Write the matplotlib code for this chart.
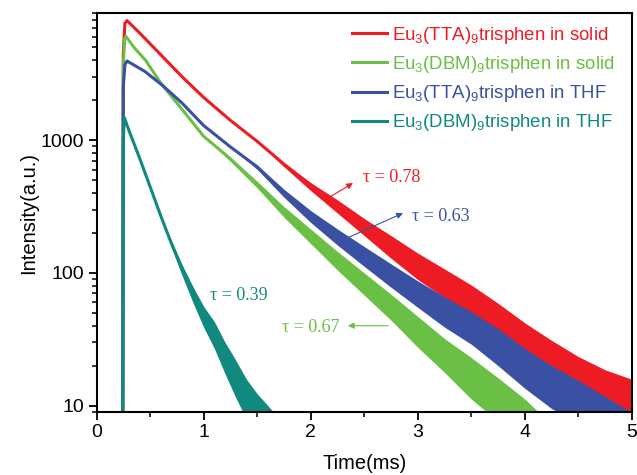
import matplotlib
matplotlib.use("Agg")
import matplotlib.pyplot as plt
import numpy as np

plt.rcParams['font.family'] = ['Liberation Sans', 'DejaVu Sans']
plt.rcParams['mathtext.fontset'] = 'custom'
plt.rcParams['mathtext.rm'] = 'Liberation Sans'
plt.rcParams['mathtext.it'] = 'Liberation Sans:italic'

# ---------------- data ----------------
labels = [r"Eu$_\mathregular{3}$(TTA)$_\mathregular{9}$trisphen in solid",
          r"Eu$_\mathregular{3}$(DBM)$_\mathregular{9}$trisphen in solid",
          r"Eu$_\mathregular{3}$(TTA)$_\mathregular{9}$trisphen in THF",
          r"Eu$_\mathregular{3}$(DBM)$_\mathregular{9}$trisphen in THF"]
colors = ["#ED1C24", "#6ABF45", "#3A50A2", "#10897F"]

red_t = [0.245, 0.25, 0.265, 0.285, 0.4, 0.6, 0.8, 1.0, 1.25, 1.5, 1.75, 2.0, 2.25,
         2.5, 2.75, 3.0, 3.25, 3.5, 3.75, 4.0, 4.25, 4.5, 4.75, 5.0]
red_mid = [5, 4500, 7600, 7950, 6450, 4400, 3000, 2100, 1410, 980, 660, 457, 324,
           229, 162, 117, 87, 65, 46, 32, 23.4, 17.4, 13.8, 11.7]
red_hi = [5, 4500, 7600, 7950, 6450, 4400, 3000, 2100, 1410, 980, 676, 479, 355,
          257, 191, 141, 107, 81, 59, 42, 31, 23.4, 18.6, 15.8]
red_lo = [5, 4500, 7600, 7950, 6450, 4400, 3000, 2100, 1410, 980, 631, 417, 282,
          191, 129, 89, 65, 47, 32, 21, 15.5, 11.2, 8.7, 7.4]

green_t = [0.245, 0.25, 0.262, 0.275, 0.35, 0.46, 0.6, 0.8, 1.0, 1.25, 1.5, 1.75, 2.0,
           2.25, 2.5, 2.75, 3.0, 3.25, 3.5, 3.75, 4.0, 4.2]
green_mid = [5, 3550, 5750, 6050, 5000, 3980, 2690, 1700, 1070, 724, 468, 295, 190,
             126, 85, 57.5, 38, 25.7, 17.8, 12.6, 9.3, 7.6]
green_hi = [5, 3550, 5750, 6050, 5000, 3980, 2690, 1700, 1070, 741, 490, 316, 214,
            145, 100, 69, 47, 32, 23, 16.2, 11.2, 7.9]
green_lo = [5, 3550, 5750, 6050, 5000, 3980, 2690, 1700, 1070, 692, 437, 263, 166,
            105, 68, 44, 27.5, 17.8, 11.2, 7.6, 5.9, 4.8]

blue_t = [0.245, 0.25, 0.265, 0.285, 0.45, 0.62, 0.8, 1.0, 1.25, 1.5, 1.75, 2.0, 2.25,
          2.5, 2.75, 3.0, 3.25, 3.5, 3.75, 4.0, 4.25, 4.5, 4.75, 5.0]
blue_mid = [5, 2500, 3700, 3950, 3300, 2570, 1900, 1290, 890, 630, 407, 269, 190,
            138, 100, 72, 54, 41, 29.5, 20.4, 15.1, 11.7, 9.3, 7.9]
blue_hi = [5, 2500, 3700, 3950, 3300, 2570, 1900, 1290, 890, 646, 427, 295, 214,
           158, 117, 87, 66, 51, 38, 27, 20, 15.5, 11.7, 8.9]
blue_lo = [5, 2500, 3700, 3950, 3300, 2570, 1900, 1290, 890, 603, 372, 240, 162,
           112, 78, 55, 39, 29, 20, 13.5, 9.5, 7.4, 5.9, 5]

teal_t = [0.245, 0.25, 0.26, 0.3, 0.4, 0.5, 0.6, 0.7, 0.8, 0.9, 1.0, 1.1, 1.2, 1.3,
          1.4, 1.5, 1.6, 1.7]
teal_mid = [5, 1000, 1480, 1200, 741, 447, 269, 166, 107, 71, 49, 35.5, 24.5, 17.4,
            12.6, 9.8, 8.3, 7.2]
teal_hi = [5, 1000, 1480, 1200, 741, 447, 269, 174, 115, 79, 56, 43, 30, 22,
           15.8, 12.3, 10, 8.1]
teal_lo = [5, 1000, 1480, 1200, 741, 447, 269, 155, 95, 60, 39, 27, 17.4, 11.5,
           7.9, 6.2, 5.2, 4.6]

taus = ["τ = 0.78", "τ = 0.63", "τ = 0.67", "τ = 0.39"]

x_ticks = [0, 1, 2, 3, 4, 5]
y_ticks = [10, 100, 1000]

# ---------------- figure ----------------
fig = plt.figure(figsize=(6.37, 4.75), dpi=100)
ax = fig.add_axes([0.1515, 0.1333, 0.8405, 0.8383])

series = [(red_t, red_mid, red_lo, red_hi),
          (green_t, green_mid, green_lo, green_hi),
          (blue_t, blue_mid, blue_lo, blue_hi),
          (teal_t, teal_mid, teal_lo, teal_hi)]
handles = []
for (t, m, lo, hi), c, lab in zip(series, colors, labels):
    ax.fill_between(t, lo, hi, color=c, linewidth=0)
    h, = ax.plot(t, m, color=c, lw=2.2, label=lab, solid_joinstyle='round')
    handles.append(h)

ax.set_yscale('log')
ax.set_xlim(0, 5)
ax.set_ylim(9.0, 9000)
ax.set_xticks(x_ticks)
ax.set_xticklabels([str(v) for v in x_ticks])
ax.set_yticks(y_ticks)
ax.set_yticklabels([str(v) for v in y_ticks])
ax.xaxis.set_minor_locator(matplotlib.ticker.MultipleLocator(0.5))
ax.yaxis.set_minor_locator(matplotlib.ticker.LogLocator(base=10, subs=np.arange(2, 10)))
ax.yaxis.set_minor_formatter(matplotlib.ticker.NullFormatter())
ax.tick_params(which='major', direction='out', length=6, width=1.3, labelsize=14,
               top=False, right=False, pad=3)
ax.tick_params(which='minor', direction='out', length=3.5, width=1.1,
               top=False, right=False)
for s in ax.spines.values():
    s.set_linewidth(1.5)

ax.set_xlabel("Time(ms)", fontsize=14.5, labelpad=9)
ax.set_ylabel("Intensity(a.u.)", fontsize=14.5, labelpad=2)

leg = ax.legend(handles=handles, loc='upper right', bbox_to_anchor=(0.968, 0.972),
                frameon=False, fontsize=13.4, handlelength=1.85, handletextpad=0.3,
                labelspacing=0.44, borderaxespad=0, borderpad=0)
for txt, c in zip(leg.get_texts(), colors):
    txt.set_color(c)

serif = ['Liberation Serif', 'DejaVu Serif']
ap = dict(arrowstyle='-|>', lw=0.8, mutation_scale=9, shrinkA=0, shrinkB=0)
# red
ax.annotate("", xy=(2.395, 475), xytext=(2.18, 373), arrowprops=dict(ap, color=colors[0]))
ax.text(2.488, 527, taus[0], color=colors[0], fontsize=13, family=serif, ha='left', va='center')
# blue
ax.annotate("", xy=(2.862, 282), xytext=(2.30, 177), arrowprops=dict(ap, color=colors[2]))
ax.text(2.946, 268, taus[1], color=colors[2], fontsize=13, family=serif, ha='left', va='center')
# green
ax.annotate("", xy=(2.348, 40), xytext=(2.722, 40), arrowprops=dict(ap, color=colors[1]))
ax.text(2.273, 39, taus[2], color=colors[1], fontsize=13, family=serif, ha='right', va='center')
# teal
ax.text(1.06, 68, taus[3], color=colors[3], fontsize=13, family=serif, ha='left', va='center')

fig.savefig("out.png", dpi=100)
